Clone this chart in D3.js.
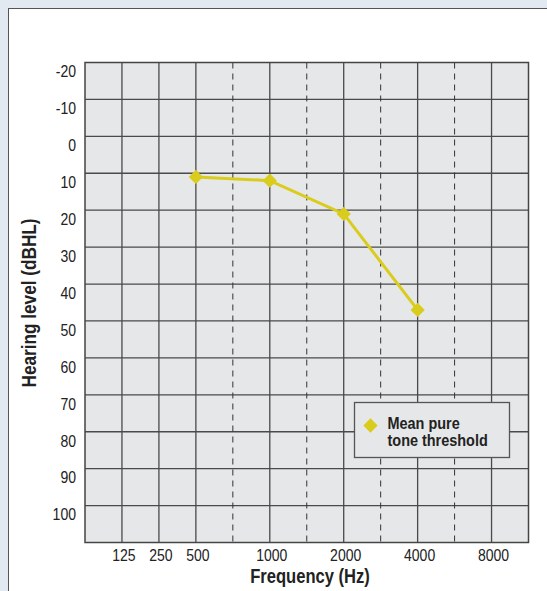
<!DOCTYPE html>
<html>
<head>
<meta charset="utf-8">
<script src="https://cdn.jsdelivr.net/npm/d3@7"></script>
<style>
  html, body { margin: 0; padding: 0; background: #e2e9f1; }
  svg { display: block; }
  .tick-label { font-family: "Liberation Sans", Arial, sans-serif; font-size: 16.5px; fill: #222; }
  .bold-label { font-family: "Liberation Sans", Arial, sans-serif; font-weight: bold; fill: #222; }
</style>
</head>
<body>
<div id="chart"></div>
<script>
// Audiogram: frequencies (octave + half-octave), labelled ticks, thresholds
const frequencies = ["125", "250", "500", "750", "1000", "1500", "2000", "3000", "4000", "6000", "8000"];
const labelledFreqs = ["125", "250", "500", "1000", "2000", "4000", "8000"];
const dashedFreqs = ["750", "1500", "3000", "6000"];
const levelTicks = [-20, -10, 0, 10, 20, 30, 40, 50, 60, 70, 80, 90, 100];
const thresholdFreqs = ["500", "1000", "2000", "4000"];
const thresholdValues = [11, 12, 21, 47];
const legendLabel = ["Mean pure", "tone threshold"];

const W = 547, H = 591;
const plot = { left: 85, top: 62.5, right: 528.5, bottom: 542.5 };
const lineColor = "#d9cc1c";
const narrow = 0.85; // the original uses a condensed face

const svg = d3.select("#chart")
    .append("svg")
    .attr("width", W)
    .attr("height", H);

// white panel
svg.append("rect")
    .attr("x", 8.5).attr("y", 8.5)
    .attr("width", W).attr("height", H)
    .attr("fill", "#fff")
    .attr("stroke", "#555")
    .attr("stroke-width", 1);

const x = d3.scalePoint()
    .domain(frequencies)
    .range([plot.left, plot.right])
    .padding(1);

const y = d3.scaleLinear()
    .domain([-20, 110])
    .range([plot.top, plot.bottom]);

// plot background
svg.append("rect")
    .attr("x", plot.left).attr("y", plot.top)
    .attr("width", plot.right - plot.left)
    .attr("height", plot.bottom - plot.top)
    .attr("fill", "#e6e7e8");

// horizontal grid
svg.append("g")
    .selectAll("line")
    .data(levelTicks.slice(1))
    .join("line")
    .attr("x1", plot.left).attr("x2", plot.right)
    .attr("y1", d => y(d)).attr("y2", d => y(d))
    .attr("stroke", "#4a4a4a")
    .attr("stroke-width", 1.3);

// vertical grid
svg.append("g")
    .selectAll("line")
    .data(frequencies)
    .join("line")
    .attr("x1", d => x(d)).attr("x2", d => x(d))
    .attr("y1", plot.top).attr("y2", plot.bottom)
    .attr("stroke", d => dashedFreqs.includes(d) ? "#333" : "#4a4a4a")
    .attr("stroke-width", d => dashedFreqs.includes(d) ? 1 : 1.3)
    .attr("stroke-dasharray", d => dashedFreqs.includes(d) ? "6,5" : null);

// plot border
svg.append("rect")
    .attr("x", plot.left).attr("y", plot.top)
    .attr("width", plot.right - plot.left)
    .attr("height", plot.bottom - plot.top)
    .attr("fill", "none")
    .attr("stroke", "#444")
    .attr("stroke-width", 1.5);

// y tick labels (sit just below their grid line)
svg.append("g")
    .selectAll("text")
    .data(levelTicks)
    .join("text")
    .attr("class", "tick-label")
    .attr("transform", d => `translate(76,${y(d) + 9}) scale(${narrow},1)`)
    .attr("dy", "0.35em")
    .attr("text-anchor", "end")
    .text(d => d);

// x tick labels
svg.append("g")
    .selectAll("text")
    .data(labelledFreqs)
    .join("text")
    .attr("class", "tick-label")
    .attr("transform", d => `translate(${x(d) + 2},${plot.bottom + 13}) scale(${narrow},1)`)
    .attr("dy", "0.35em")
    .attr("text-anchor", "middle")
    .text(d => d);

// axis titles
svg.append("text")
    .attr("class", "bold-label")
    .attr("transform", `translate(310,576) scale(${narrow},1)`)
    .attr("dy", "0.35em")
    .attr("text-anchor", "middle")
    .style("font-size", "19.5px")
    .text("Frequency (Hz)");

svg.append("text")
    .attr("class", "bold-label")
    .attr("transform", `translate(29,303) rotate(-90) scale(0.86,1)`)
    .attr("dy", "0.35em")
    .attr("text-anchor", "middle")
    .style("font-size", "20px")
    .text("Hearing level (dBHL)");

// threshold line + markers
const points = thresholdFreqs.map((f, i) => ({ f, v: thresholdValues[i] }));

svg.append("path")
    .datum(points)
    .attr("fill", "none")
    .attr("stroke", lineColor)
    .attr("stroke-width", 3)
    .attr("d", d3.line().x(d => x(d.f)).y(d => y(d.v)));

const diamond = d3.symbol().type(d3.symbolDiamond2).size(130);

svg.append("g")
    .selectAll("path")
    .data(points)
    .join("path")
    .attr("transform", d => `translate(${x(d.f)},${y(d.v)})`)
    .attr("d", diamond)
    .attr("fill", lineColor);

// legend
const legend = svg.append("g").attr("transform", "translate(354.5,402.5)");
legend.append("rect")
    .attr("width", 155).attr("height", 55)
    .attr("fill", "#e6e7e8")
    .attr("stroke", "#555")
    .attr("stroke-width", 1.3);
legend.append("path")
    .attr("transform", "translate(16,23)")
    .attr("d", diamond)
    .attr("fill", lineColor);
legend.selectAll("text.leg")
    .data(legendLabel)
    .join("text")
    .attr("class", "bold-label leg")
    .attr("transform", (d, i) => `translate(33,${21 + i * 17}) scale(${narrow},1)`)
    .attr("dy", "0.35em")
    .style("font-size", "17px")
    .text(d => d);
</script>
</body>
</html>
